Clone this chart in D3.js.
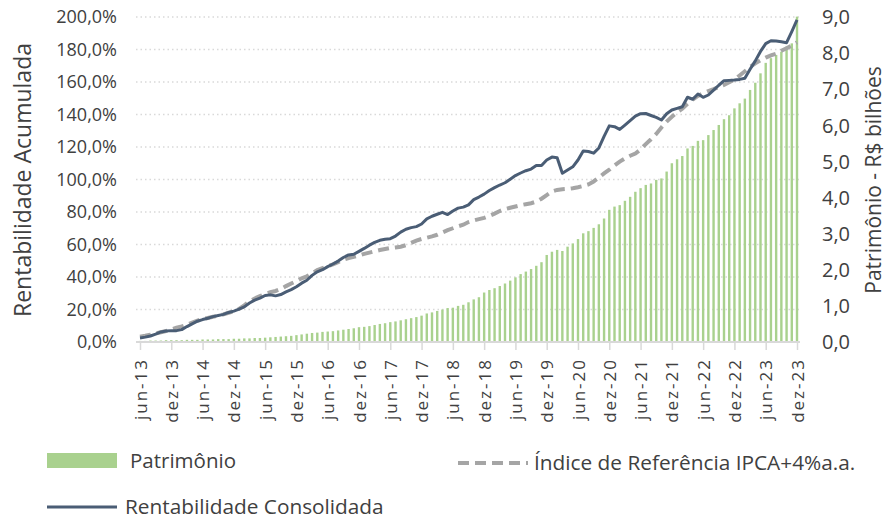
<!DOCTYPE html>
<html>
<head>
<meta charset="utf-8">
<script src="https://cdn.jsdelivr.net/npm/d3@7"></script>
<style>
  body { margin: 0; background: #fff; }
  text { font-family: "Open Sans", sans-serif; fill: #404040; }
</style>
</head>
<body>
<div class="canvas"></div>
<script>
// meses jun-13 .. dez-23
const monthNames = ['jan','fev','mar','abr','mai','jun','jul','ago','set','out','nov','dez'];
const months = [];
for (let y = 2013; y <= 2023; y++) {
    for (let m = 0; m < 12; m++) {
        if (y === 2013 && m < 5) continue;
        months.push(monthNames[m] + '-' + String(y).slice(2));
    }
}

// Patrimônio (R$ bilhões)
const patrimonio = [
    0.03, 0.03, 0.04, 0.04, 0.04, 0.05, 0.05, 0.05, 0.05, 0.06,
    0.06, 0.06, 0.07, 0.07, 0.07, 0.08, 0.08, 0.08, 0.09, 0.09,
    0.10, 0.10, 0.11, 0.11, 0.12, 0.13, 0.14, 0.15, 0.16, 0.17,
    0.19, 0.21, 0.23, 0.25, 0.26, 0.28, 0.29, 0.30, 0.32, 0.34,
    0.36, 0.38, 0.41, 0.42, 0.44, 0.47, 0.50, 0.52, 0.55, 0.57,
    0.60, 0.63, 0.66, 0.69, 0.73, 0.79, 0.82, 0.86, 0.90, 0.94,
    0.95, 1.00, 1.03, 1.10, 1.18, 1.24, 1.37, 1.44, 1.49, 1.55,
    1.62, 1.70, 1.79, 1.88, 1.95, 2.02, 2.11, 2.21, 2.41, 2.50,
    2.55, 2.52, 2.64, 2.73, 2.85, 3.01, 3.07, 3.16, 3.26, 3.42,
    3.66, 3.75, 3.79, 3.91, 4.02, 4.16, 4.26, 4.35, 4.39, 4.49,
    4.53, 4.72, 4.95, 5.06, 5.15, 5.36, 5.43, 5.57, 5.59, 5.73,
    5.87, 6.01, 6.17, 6.28, 6.47, 6.61, 6.74, 6.98, 7.18, 7.44,
    7.73, 7.86, 7.95, 8.04, 8.18, 8.27, 9.01
];

// Rentabilidade Consolidada (% acumulado)
const rentabilidade = [
    2.5, 3.0, 3.7, 4.8, 6.2, 6.8, 7.0, 7.0, 7.6, 9.5,
    11.2, 12.8, 13.8, 14.6, 15.6, 16.3, 17.0, 18.2, 19.0, 20.2,
    21.6, 24.0, 25.8, 27.0, 28.6, 29.0, 28.4, 29.2, 30.8, 32.2,
    34.0, 36.2, 38.0, 41.0, 43.2, 44.5, 46.4, 48.0, 49.8, 52.0,
    53.6, 54.0, 55.8, 57.6, 59.6, 61.3, 62.6, 63.2, 63.6, 65.2,
    67.6, 69.4, 70.4, 71.0, 72.6, 75.8, 77.4, 78.6, 79.8, 78.4,
    80.6, 82.4, 83.0, 84.4, 87.6, 89.2, 91.0, 93.2, 95.0, 96.6,
    98.0, 100.2, 102.4, 104.0, 105.4, 106.4, 108.6, 108.6, 112.0, 113.8,
    113.4, 103.8, 105.8, 107.8, 112.0, 117.6, 117.2, 116.2, 119.4, 126.5,
    133.0, 132.5, 130.8, 133.5, 136.2, 139.0, 140.5, 140.6, 139.4, 138.2,
    136.6, 140.5, 142.8, 143.8, 144.8, 150.6, 149.4, 152.6, 150.6, 152.0,
    155.0, 158.0, 160.8, 161.0, 161.2, 161.6, 162.3, 167.8, 173.0, 178.8,
    183.6, 185.4, 185.2, 184.8, 184.2, 191.0, 198.2
];

// Índice de Referência IPCA+4%a.a. (% acumulado)
const indice = [
    3.2, 3.8, 4.5, 5.2, 6.0, 6.8, 7.8, 8.8, 9.6, 10.6,
    12.0, 13.2, 14.0, 14.8, 15.5, 16.2, 17.0, 18.0, 19.0, 20.4,
    22.6, 25.0, 26.8, 28.2, 29.6, 30.6, 31.4, 32.6, 34.4, 36.0,
    37.5, 39.2, 40.4, 42.2, 44.2, 45.4, 46.6, 47.8, 49.2, 50.6,
    51.6, 52.4, 53.2, 54.2, 55.0, 55.8, 56.6, 57.2, 57.8, 58.2,
    58.6, 59.6, 61.0, 62.4, 63.4, 64.2, 65.0, 66.0, 67.4, 68.8,
    70.0, 71.2, 72.2, 73.8, 74.8, 75.6, 76.4, 77.6, 79.0, 80.6,
    81.8, 82.6, 83.4, 84.2, 84.8, 85.4, 86.4, 88.2, 90.4, 92.6,
    93.6, 94.0, 94.2, 94.6, 95.2, 96.0, 97.0, 98.8, 101.2, 103.8,
    106.0, 108.6, 111.0, 113.0, 114.6, 116.0, 118.5, 121.8, 124.8, 128.0,
    132.0, 135.6, 138.6, 141.4, 143.6, 146.6, 149.2, 151.4, 153.0, 154.4,
    155.6, 157.0, 158.2, 159.8, 161.4, 164.0, 166.6, 169.2, 171.5, 173.4,
    175.0, 176.4, 177.4, 179.2, 180.8, 182.4, 184.4
];

const leftTicks = [0, 20, 40, 60, 80, 100, 120, 140, 160, 180, 200];
const rightTicks = [0, 1, 2, 3, 4, 5, 6, 7, 8, 9];

const width = 888, height = 519;
const svg = d3.select('.canvas')
    .append('svg')
    .attr('width', width)
    .attr('height', height);

const x = d3.scalePoint().domain(months).range([140, 797]);
const yL = d3.scaleLinear().domain([0, 200]).range([342, 17]);
const yR = d3.scaleLinear().domain([0, 9]).range([342, 17]);

const fmt = d3.format('.1f');
const comma = v => fmt(v).replace('.', ',');

// grade pontilhada
svg.append('g')
    .selectAll('line')
    .data(leftTicks.slice(1))
    .enter().append('line')
    .attr('x1', 136).attr('x2', 800)
    .attr('y1', d => yL(d)).attr('y2', d => yL(d))
    .attr('stroke', '#d9d9d9')
    .attr('stroke-width', 1.3)
    .attr('stroke-dasharray', '1.5,3');

// barras patrimônio
svg.append('g')
    .selectAll('rect')
    .data(patrimonio)
    .enter().append('rect')
    .attr('x', (d, i) => x(months[i]) - 1.2)
    .attr('width', 2.4)
    .attr('y', d => yR(d))
    .attr('height', d => yR(0) - yR(d))
    .attr('fill', '#a9d18e');

// eixo x
const xTicks = months.filter((m, i) => i % 6 === 0);
const xAxis = d3.axisBottom(x).tickValues(xTicks).tickSize(8).tickSizeOuter(0);
const gx = svg.append('g')
    .attr('transform', 'translate(0,342)')
    .call(xAxis);
gx.select('.domain').attr('stroke', '#d9d9d9').attr('stroke-width', 2)
    .attr('d', 'M136,0H800');
gx.selectAll('.tick line').attr('stroke', '#d9d9d9').attr('stroke-width', 1.5);
gx.selectAll('.tick text')
    .attr('transform', 'rotate(-90)')
    .attr('text-anchor', 'end')
    .attr('x', -16)
    .attr('y', 0)
    .attr('dy', '0.36em')
    .style('font-size', '17px')
    .style('letter-spacing', '2px')
    .style('font-family', '"Open Sans", sans-serif')
    .attr('fill', '#404040');

// eixo esquerdo
svg.append('g')
    .selectAll('text')
    .data(leftTicks)
    .enter().append('text')
    .attr('x', 117)
    .attr('y', d => yL(d))
    .attr('dy', '0.36em')
    .attr('text-anchor', 'end')
    .style('font-size', '18px')
    .text(d => comma(d) + '%');

// eixo direito
svg.append('g')
    .selectAll('text')
    .data(rightTicks)
    .enter().append('text')
    .attr('x', 822)
    .attr('y', d => yR(d))
    .attr('dy', '0.36em')
    .style('font-size', '20px')
    .text(d => comma(d));

// linhas
const lineL = d3.line()
    .x((d, i) => x(months[i]))
    .y(d => yL(d));

svg.append('path')
    .datum(indice)
    .attr('fill', 'none')
    .attr('stroke', '#a5a5a5')
    .attr('stroke-width', 4)
    .attr('stroke-dasharray', '11,6')
    .attr('d', lineL);

svg.append('path')
    .datum(rentabilidade)
    .attr('fill', 'none')
    .attr('stroke', '#4a5d75')
    .attr('stroke-width', 3)
    .attr('stroke-linejoin', 'round')
    .attr('d', lineL);

// títulos dos eixos
svg.append('text')
    .attr('transform', 'translate(31,180) rotate(-90)')
    .attr('text-anchor', 'middle')
    .style('font-size', '23px')
    .text('Rentabilidade Acumulada');

svg.append('text')
    .attr('transform', 'translate(881,180) rotate(-90)')
    .attr('text-anchor', 'middle')
    .style('font-size', '21px')
    .text('Patrimônio - R$ bilhões');

// legenda
const legend = svg.append('g');
legend.append('rect')
    .attr('x', 47).attr('y', 453).attr('width', 70).attr('height', 15)
    .attr('fill', '#a9d18e');
legend.append('text')
    .attr('x', 130).attr('y', 468)
    .style('font-size', '20.5px')
    .text('Patrimônio');

legend.append('line')
    .attr('x1', 458).attr('x2', 528).attr('y1', 463).attr('y2', 463)
    .attr('stroke', '#a5a5a5').attr('stroke-width', 4)
    .attr('stroke-dasharray', '11,6');
legend.append('text')
    .attr('x', 534).attr('y', 470)
    .style('font-size', '20.8px')
    .text('Índice de Referência IPCA+4%a.a.');

legend.append('line')
    .attr('x1', 47).attr('x2', 117).attr('y1', 507).attr('y2', 507)
    .attr('stroke', '#4a5d75').attr('stroke-width', 3);
legend.append('text')
    .attr('x', 125).attr('y', 514)
    .style('font-size', '20.8px')
    .text('Rentabilidade Consolidada');
</script>
</body>
</html>
